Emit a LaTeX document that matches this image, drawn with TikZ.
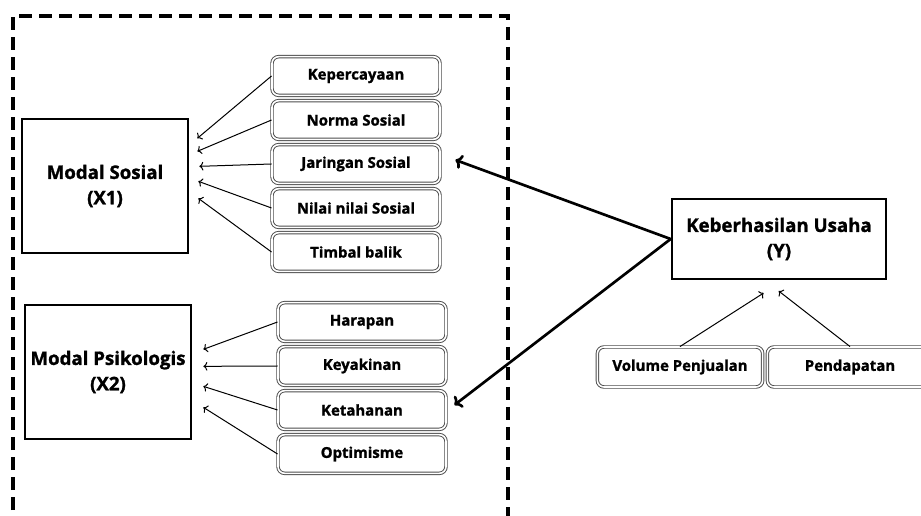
\documentclass[tikz,border=0pt]{standalone}
\usepackage{fontspec}
\setmainfont{Open Sans}[BoldFeatures={FakeBold=1.3}]
\usetikzlibrary{arrows.meta, positioning, calc}
\tikzstyle{variabel} = [rectangle, minimum width=125pt, minimum height=100pt, text centered, align=center, draw=black, line width=1.5pt, font=\bfseries\fontsize{14}{19}\selectfont]
\tikzstyle{indikator} = [rectangle, rounded corners=5pt, minimum width=126pt, minimum height=29pt, text centered, draw=gray!60!black, double=white, double distance=1.2pt, line width=0.7pt, font=\bfseries\fontsize{11.2}{13}\selectfont]
\tikzstyle{arrow} = [line width=0.75pt,-{To[length=3pt,width=6.5pt]}]
\tikzstyle{bigarrow} = [line width=2pt,-{To[length=5pt,width=11pt]}]
\tikzstyle{batas} = [line width=2.8pt, dash pattern=on 10pt off 5pt]

\begin{document}
\begin{tikzpicture}[x=0.75pt, y=-0.75pt, node distance=33pt]
\useasboundingbox (0,0) rectangle (921,516);
\draw [batas] (13,530) -- (13,16) -- (508,16) -- (508,530);

\node (ms) [variabel] at (105,186) {Modal Sosial\\(X1)};
\node (kep) [indikator] at (356,76) {Kepercayaan};
\node (nor) [indikator, below of=kep] {Norma Sosial};
\node (jar) [indikator, below of=nor] {Jaringan Sosial};
\node (nil) [indikator, below of=jar] {Nilai nilai Sosial};
\node (tim) [indikator, below of=nil] {Timbal balik};

\node (mp) [variabel] at (108,372) {Modal Psikologis\\(X2)};
\node (har) [indikator] at (362,322) {Harapan};
\node (yak) [indikator, below of=har] {Keyakinan};
\node (ket) [indikator, below of=yak] {Ketahanan};
\node (opt) [indikator, below of=ket] {Optimisme};

\node (keb) [variabel, minimum width=161pt, minimum height=60pt] at (779,239) {Keberhasilan Usaha\\(Y)};
\node (vol) [indikator, minimum width=124pt, minimum height=30pt] at (680,367) {Volume Penjualan};
\node (pen) [indikator, minimum width=124pt, minimum height=30pt] at (850,367) {Pendapatan};

\draw [arrow] (kep.west) -- ($(ms.north east)+(8,20)$);
\draw [arrow] (nor.west) -- ($(ms.north east)+(8,33)$);
\draw [arrow] (jar.west) -- ($(ms.north east)+(10,48)$);
\draw [arrow] (nil.west) -- ($(ms.north east)+(9,63)$);
\draw [arrow] (tim.west) -- ($(ms.north east)+(9,80)$);

\draw [arrow] (har.west) -- ($(mp.north east)+(11,45)$);
\draw [arrow] (yak.west) -- ($(mp.north east)+(11,62)$);
\draw [arrow] (ket.west) -- ($(mp.north east)+(11,82)$);
\draw [arrow] (opt.west) -- ($(mp.north east)+(11,103)$);

\draw [bigarrow] (keb.west) -- ($(jar.east)+(15,-4)$);
\draw [bigarrow] (keb.west) -- ($(ket.east)+(8,-5)$);

\draw [arrow] (vol.north) -- ($(keb.south west)+(93,13)$);
\draw [arrow] (pen.north) -- ($(keb.south west)+(108,11)$);
\end{tikzpicture}
\end{document}
